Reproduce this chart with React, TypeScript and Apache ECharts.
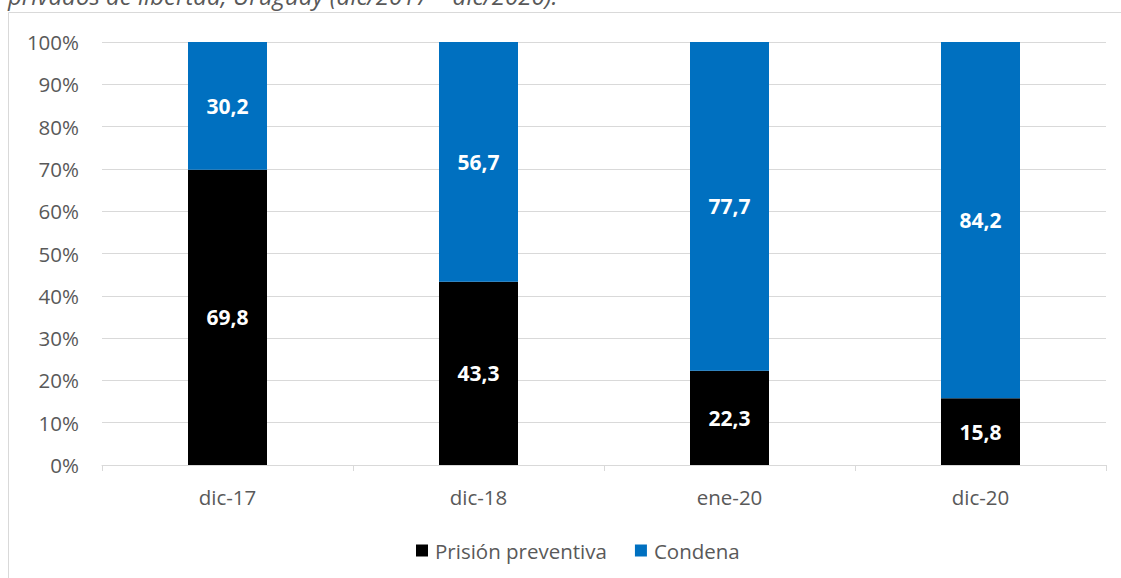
import React, { useEffect, useRef } from "react";
import * as echarts from "echarts";

const categories = ["dic-17", "dic-18", "ene-20", "dic-20"];
const prisionPreventiva = [69.8, 43.3, 22.3, 15.8];
const condena = [30.2, 56.7, 77.7, 84.2];
const seriesNames = ["Prisión preventiva", "Condena"];
const titleText = "privados de libertad, Uruguay (dic/2017 – dic/2020).";

const FONT = "'Open Sans', 'Noto Sans', sans-serif";
const GREY = "#595959";

export default function App() {
  const ref = useRef<HTMLDivElement>(null);
  useEffect(() => {
    if (!ref.current) return;
    const chart = echarts.init(ref.current, undefined, { renderer: "svg" });
    const fmt = (p: any) => Number(p.value).toFixed(1).replace(".", ",");
    const labelStyle = {
      show: true,
      position: "inside",
      formatter: fmt,
      color: "#ffffff",
      fontFamily: FONT,
      fontWeight: "bold",
      fontSize: 21,
    };
    chart.setOption({
      animation: false,
      backgroundColor: "#ffffff",
      graphic: [
        {
          type: "text",
          left: 8,
          top: -17,
          style: {
            text: titleText,
            font: `italic 24px ${FONT}`,
            fill: GREY,
          },
        },
        {
          type: "line",
          shape: { x1: 8.5, y1: 12.5, x2: 1121, y2: 12.5 },
          style: { stroke: "#d9d9d9", lineWidth: 1 },
        },
        {
          type: "line",
          shape: { x1: 8.5, y1: 12.5, x2: 8.5, y2: 578 },
          style: { stroke: "#d9d9d9", lineWidth: 1 },
        },
      ],
      grid: { left: 102, right: 15, top: 42, bottom: 113 },
      legend: {
        top: 535,
        left: 411,
        itemWidth: 12,
        itemHeight: 12,
        itemGap: 28,
        icon: "rect",
        textStyle: {
          fontFamily: FONT,
          fontSize: 20.5,
          color: GREY,
          padding: [0, 0, 0, 2],
        },
        data: seriesNames,
      },
      xAxis: {
        type: "category",
        data: categories,
        axisLine: { lineStyle: { color: "#d9d9d9" } },
        axisTick: { show: true, length: 6, lineStyle: { color: "#d9d9d9" } },
        axisLabel: { fontFamily: FONT, fontSize: 20.5, color: GREY, margin: 21 },
      },
      yAxis: {
        type: "value",
        min: 0,
        max: 100,
        interval: 10,
        axisLine: { show: false },
        axisTick: { show: false },
        splitLine: { lineStyle: { color: "#d9d9d9" } },
        axisLabel: {
          fontFamily: FONT,
          fontSize: 20.5,
          color: GREY,
          margin: 23,
          formatter: "{value}%",
        },
      },
      series: [
        {
          name: seriesNames[0],
          type: "bar",
          stack: "total",
          barWidth: 79,
          data: prisionPreventiva,
          itemStyle: { color: "#000000" },
          label: labelStyle,
        },
        {
          name: seriesNames[1],
          type: "bar",
          stack: "total",
          barWidth: 79,
          data: condena,
          itemStyle: { color: "#0070C0" },
          label: labelStyle,
        },
      ],
    });
    return () => chart.dispose();
  }, []);
  return (
    <div
      ref={ref}
      style={{ position: "absolute", left: 0, top: 0, width: 1121, height: 578 }}
    />
  );
}
